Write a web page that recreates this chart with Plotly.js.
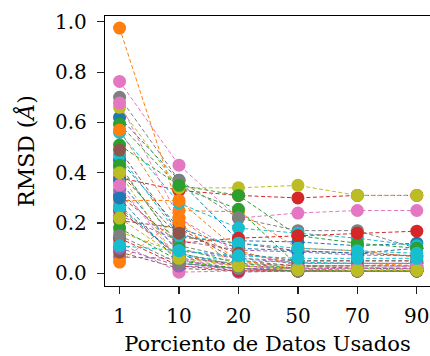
<!DOCTYPE html>
<html><head><meta charset="utf-8">
<script src="https://cdn.plot.ly/plotly-3.0.1.min.js"></script>
<style>html,body{margin:0;padding:0;background:#fff}#chart{width:430px;height:356px}</style>
</head><body><div id="chart"></div>
<script>
const categories = ["1", "10", "20", "50", "70", "90"];
const tab10 = ["#1f77b4","#ff7f0e","#2ca02c","#d62728","#9467bd","#8c564b","#e377c2","#7f7f7f","#bcbd22","#17becf"];

const blueRuns   = [[0.62,0.37,0.13,0.125,0.11,0.12],[0.45,0.18,0.10,0.09,0.08,0.10],[0.367,0.08,0.03,0.02,0.02,0.02],[0.30,0.04,0.02,0.01,0.01,0.01]];
const orangeRuns = [[0.975,0.25,0.245,0.10,0.09,0.065],[0.29,0.29,0.09,0.03,0.03,0.04],[0.045,0.22,0.05,0.02,0.02,0.02],[0.57,0.20,0.02,0.01,0.01,0.01]];
const greenRuns  = [[0.593,0.343,0.255,0.03,0.02,0.02],[0.51,0.35,0.31,0.15,0.12,0.10],[0.43,0.10,0.04,0.02,0.01,0.01],[0.18,0.05,0.02,0.01,0.01,0.01]];
const redRuns    = [[0.38,0.33,0.31,0.30,0.31,0.31],[0.31,0.12,0.14,0.15,0.16,0.168],[0.25,0.07,0.03,0.02,0.02,0.02],[0.14,0.03,0.01,0.01,0.01,0.01]];
const purpleRuns = [[0.23,0.13,0.093,0.085,0.073,0.07],[0.065,0.06,0.005,0.01,0.01,0.01],[0.33,0.09,0.06,0.04,0.04,0.04],[0.10,0.03,0.02,0.02,0.02,0.02]];
const brownRuns  = [[0.40,0.145,0.12,0.09,0.08,0.07],[0.21,0.18,0.05,0.03,0.03,0.03],[0.085,0.02,0.01,0.01,0.01,0.01],[0.49,0.16,0.08,0.05,0.05,0.05]];
const pinkRuns   = [[0.763,0.43,0.22,0.24,0.25,0.25],[0.677,0.22,0.08,0.04,0.04,0.04],[0.12,0.005,0.01,0.01,0.01,0.02],[0.35,0.05,0.03,0.02,0.02,0.03]];
const grayRuns   = [[0.70,0.37,0.22,0.17,0.17,0.10],[0.42,0.11,0.06,0.05,0.05,0.05],[0.27,0.06,0.04,0.03,0.03,0.03],[0.15,0.04,0.02,0.01,0.01,0.01]];
const oliveRuns  = [[0.66,0.34,0.34,0.35,0.31,0.31],[0.165,0.08,0.033,0.017,0.013,0.013],[0.40,0.045,0.02,0.01,0.01,0.01],[0.22,0.06,0.03,0.015,0.012,0.012]];
const cyanRuns   = [[0.56,0.28,0.18,0.16,0.14,0.11],[0.47,0.15,0.12,0.10,0.09,0.08],[0.26,0.07,0.05,0.045,0.04,0.04],[0.11,0.09,0.07,0.06,0.06,0.06]];

const groups = [blueRuns, orangeRuns, greenRuns, redRuns, purpleRuns, brownRuns, pinkRuns, grayRuns, oliveRuns, cyanRuns];
const traces = [];
for (let k = 0; k < 4; k++) {
  for (let c = 0; c < 10; c++) {
    traces.push({
      x: categories, y: groups[c][k], type: "scatter", mode: "lines+markers",
      line: {color: tab10[c], width: 1.0, dash: "4px,2.5px"},
      marker: {color: tab10[c], size: 13},
      showlegend: false, hoverinfo: "skip"
    });
  }
}
const font = {family: "'DejaVu Serif', serif", size: 20, color: "#000"};
const layout = {
  width: 430, height: 356,
  margin: {l: 105, r: 0, t: 16, b: 70},
  paper_bgcolor: "#fff", plot_bgcolor: "#fff",
  font: font,
  xaxis: {type: "category", range: [-0.245, 5.222], showgrid: false, zeroline: false,
    showline: true, mirror: true, linecolor: "#000", linewidth: 1.2,
    ticks: "outside", ticklen: 7, tickwidth: 1.2, tickcolor: "#222", ticklabelstandoff: 5,
    title: {text: "Porciento de Datos Usados", font: {family: "'DejaVu Serif', serif", size: 21, color: "#000"}, standoff: 10}},
  yaxis: {range: [-0.05, 1.023], tickvals: [0,0.2,0.4,0.6,0.8,1.0], ticktext: ["0.0","0.2","0.4","0.6","0.8","1.0"],
    showgrid: false, zeroline: false,
    showline: true, mirror: true, linecolor: "#000", linewidth: 1.2,
    ticks: "outside", ticklen: 7, tickwidth: 1.2, tickcolor: "#222", ticklabelstandoff: 6,
    title: {text: "RMSD (<i>Å</i>)", font: {family: "'DejaVu Serif', serif", size: 22, color: "#000"}, standoff: 14}}
};
Plotly.newPlot("chart", traces, layout, {staticPlot: true, displayModeBar: false});
</script></body></html>
